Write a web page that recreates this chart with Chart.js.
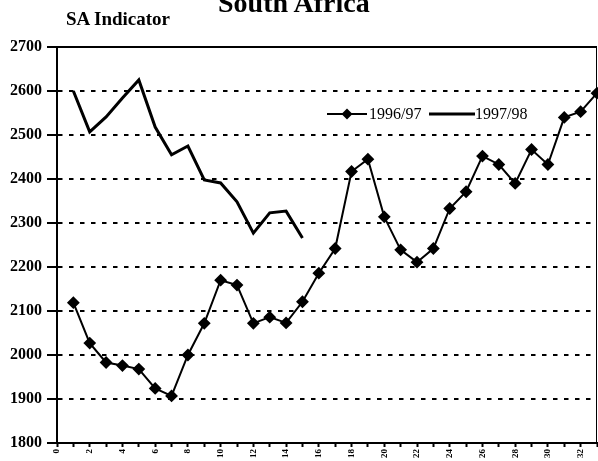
<!DOCTYPE html>
<html>
<head>
<meta charset="utf-8">
<script src="https://cdn.jsdelivr.net/npm/chart.js@4/dist/chart.umd.min.js"></script>
<style>
  body { margin: 0; background: #fff; }
  #wrap { position: relative; width: 598px; height: 461px; overflow: hidden; }
  .t { position: absolute; font-family: "Liberation Serif", "Times New Roman", serif; font-weight: bold; color: #000; line-height: 1; white-space: nowrap; }
  #title { left: 218px; top: -11px; font-size: 28px; }
  #sub { left: 66px; top: 9px; font-size: 19px; }
</style>
</head>
<body>
<div id="wrap">
  <canvas id="sa-chart" width="598" height="461"></canvas>
  <div class="t" id="title">South Africa</div>
  <div class="t" id="sub">SA Indicator</div>
</div>
<script>
const weeks = ['0','1','2','3','4','5','6','7','8','9','10','11','12','13','14','15','16',
  '17','18','19','20','21','22','23','24','25','26','27','28','29','30','31','32','33'];
const sa9697 = [null, 2119, 2027, 1983, 1976, 1968, 1924, 1907, 2000, 2072, 2170, 2159,
  2072, 2086, 2073, 2121, 2186, 2242, 2417, 2445, 2314, 2239, 2211, 2242, 2333, 2371,
  2452, 2433, 2390, 2467, 2433, 2540, 2553, 2595];
const sa9798 = [null, 2600, 2507, 2541, 2584, 2625, 2518, 2455, 2475, 2398, 2391, 2348,
  2277, 2323, 2327, 2266];
const seriesNames = ['1996/97', '1997/98'];

const serif = '"Liberation Serif", "Times New Roman", serif';

// frame line on top + right, and the legend inside the plot
const framePlugin = {
  id: 'frame',
  afterDraw(chart) {
    const {ctx, chartArea: a} = chart;
    ctx.save();
    ctx.strokeStyle = '#000';
    ctx.lineWidth = 2;
    ctx.beginPath();
    ctx.moveTo(a.left, a.top);
    ctx.lineTo(a.right, a.top);
    ctx.stroke();
    ctx.lineWidth = 1;
    ctx.beginPath();
    ctx.moveTo(a.right - 0.5, a.top);
    ctx.lineTo(a.right - 0.5, a.bottom);
    ctx.stroke();

    // legend
    const y = 114;
    ctx.lineWidth = 2;
    ctx.beginPath();
    ctx.moveTo(327, y);
    ctx.lineTo(367, y);
    ctx.stroke();
    ctx.beginPath();
    ctx.moveTo(347, y - 5.5);
    ctx.lineTo(352.5, y);
    ctx.lineTo(347, y + 5.5);
    ctx.lineTo(341.5, y);
    ctx.closePath();
    ctx.fillStyle = '#000';
    ctx.fill();
    ctx.lineWidth = 3;
    ctx.beginPath();
    ctx.moveTo(429, y);
    ctx.lineTo(475, y);
    ctx.stroke();
    ctx.font = '16px ' + serif;
    ctx.textBaseline = 'middle';
    ctx.fillText(seriesNames[0], 369, y + 1);
    ctx.fillText(seriesNames[1], 475, y + 1);
    ctx.restore();
  }
};

new Chart(
  document.getElementById('sa-chart'),
  {
    type: 'line',
    data: {
      labels: weeks,
      datasets: [
        {
          label: seriesNames[0],
          data: sa9697,
          borderColor: '#000',
          backgroundColor: '#000',
          borderWidth: 2,
          pointStyle: 'rectRot',
          pointRadius: 5,
          pointBackgroundColor: '#000',
          pointBorderColor: '#000',
          tension: 0
        },
        {
          label: seriesNames[1],
          data: sa9798,
          borderColor: '#000',
          borderWidth: 3,
          pointRadius: 0,
          tension: 0
        }
      ]
    },
    options: {
      responsive: false,
      animation: false,
      layout: { autoPadding: false, padding: { top: 47, right: 1, left: 0, bottom: 0 } },
      plugins: {
        legend: { display: false },
        tooltip: { enabled: false }
      },
      scales: {
        x: {
          offset: false,
          afterFit(scale) {
            scale.height = 18;
            scale.paddingLeft = 0;
            scale.paddingRight = 0;
          },
          border: { display: true, color: '#000', width: 2 },
          grid: {
            drawOnChartArea: false,
            drawTicks: true,
            tickLength: 4,
            tickWidth: 2,
            tickColor: '#000'
          },
          ticks: {
            autoSkip: false,
            minRotation: 90,
            maxRotation: 90,
            padding: 2,
            color: '#000',
            font: { family: serif, size: 9, weight: 'bold' },
            callback(v, i) { return i % 2 === 0 ? weeks[i] : ''; }
          }
        },
        y: {
          min: 1800,
          max: 2700,
          afterFit(scale) { scale.width = 57; },
          border: { display: true, color: '#000', width: 2, dash: [4.5, 6.5] },
          grid: {
            color: '#000',
            lineWidth: 2,
            tickLength: 10,
            tickWidth: 2,
            tickColor: '#000',
            tickBorderDash: []
          },
          ticks: {
            stepSize: 100,
            padding: 5,
            color: '#000',
            font: { family: serif, size: 16, weight: 'bold' },
            callback(v) { return String(v); }
          }
        }
      }
    },
    plugins: [framePlugin]
  }
);
</script>
</body>
</html>
